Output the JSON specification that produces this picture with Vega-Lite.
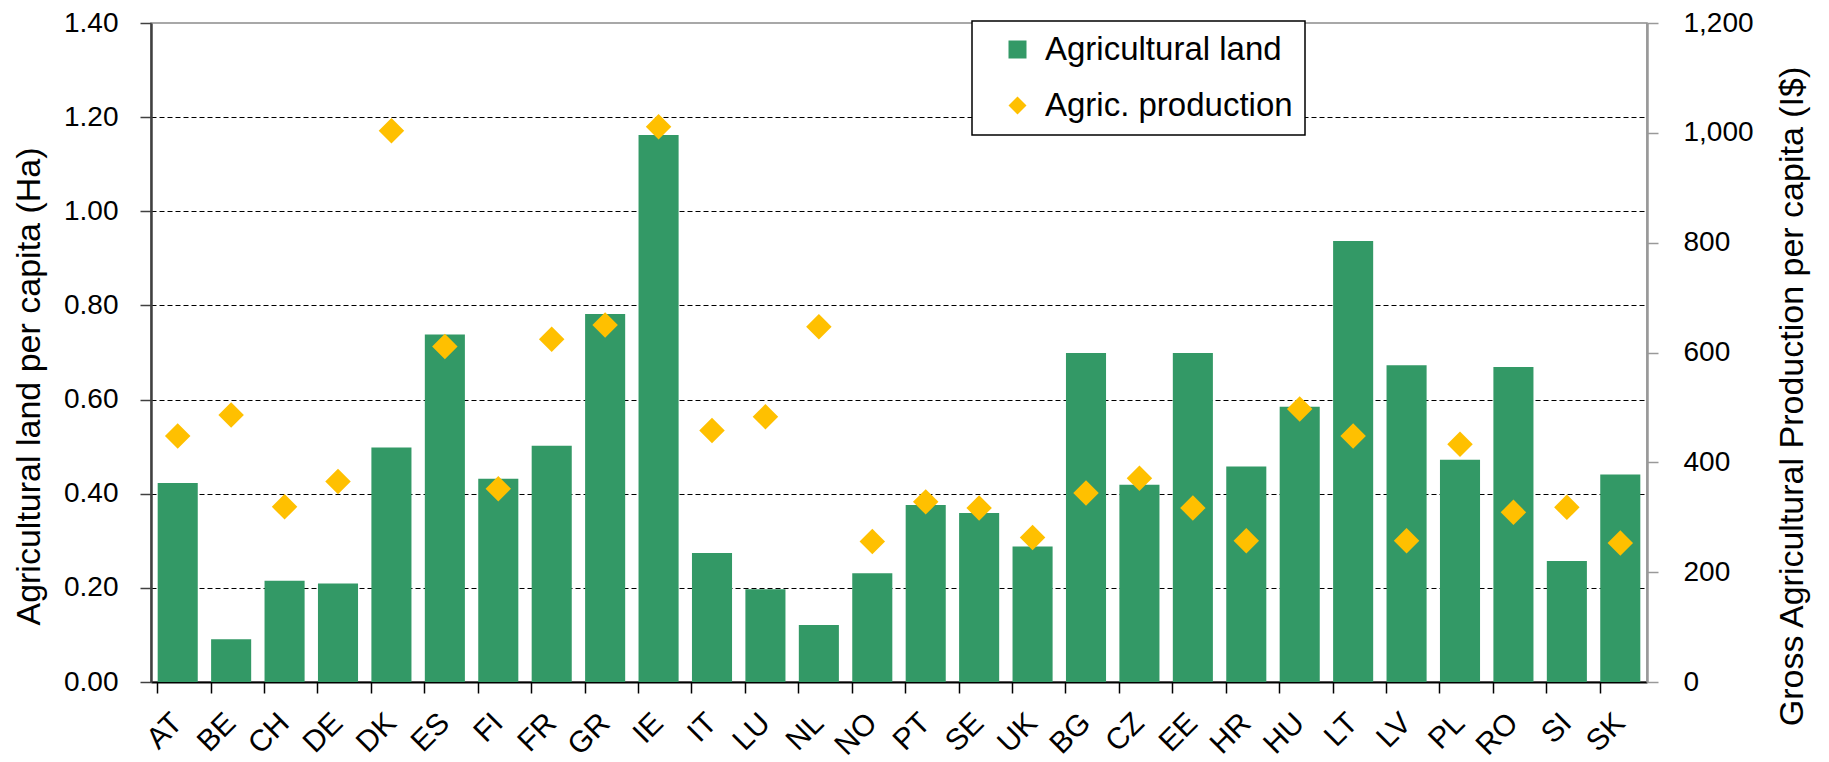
{
  "$schema": "https://vega.github.io/schema/vega-lite/v6.json",
  "width": 1496,
  "height": 659,
  "autosize": {"type": "none"},
  "padding": {"left": 151, "top": 23, "right": 182, "bottom": 80},
  "background": "white",
  "config": {
    "font": "Liberation Sans",
    "view": {"stroke": "#8c8c8c", "strokeWidth": 1.5}
  },
  "data": {
    "values": [
      {"country": "AT", "land": 0.423, "prod": 448},
      {"country": "BE", "land": 0.091, "prod": 486},
      {"country": "CH", "land": 0.215, "prod": 319},
      {"country": "DE", "land": 0.209, "prod": 365},
      {"country": "DK", "land": 0.498, "prod": 1004},
      {"country": "ES", "land": 0.738, "prod": 611},
      {"country": "FI", "land": 0.432, "prod": 352},
      {"country": "FR", "land": 0.502, "prod": 624},
      {"country": "GR", "land": 0.782, "prod": 650},
      {"country": "IE", "land": 1.162, "prod": 1011},
      {"country": "IT", "land": 0.274, "prod": 458},
      {"country": "LU", "land": 0.197, "prod": 483},
      {"country": "NL", "land": 0.121, "prod": 647},
      {"country": "NO", "land": 0.231, "prod": 256},
      {"country": "PT", "land": 0.376, "prod": 328},
      {"country": "SE", "land": 0.359, "prod": 317},
      {"country": "UK", "land": 0.288, "prod": 263},
      {"country": "BG", "land": 0.699, "prod": 344},
      {"country": "CZ", "land": 0.419, "prod": 371},
      {"country": "EE", "land": 0.699, "prod": 317},
      {"country": "HR", "land": 0.458, "prod": 257},
      {"country": "HU", "land": 0.585, "prod": 497},
      {"country": "LT", "land": 0.937, "prod": 448},
      {"country": "LV", "land": 0.673, "prod": 257},
      {"country": "PL", "land": 0.472, "prod": 433},
      {"country": "RO", "land": 0.669, "prod": 309},
      {"country": "SI", "land": 0.257, "prod": 318},
      {"country": "SK", "land": 0.441, "prod": 253}
    ]
  },
  "layer": [
    {
      "mark": {"type": "bar"},
      "encoding": {
        "x": {
          "field": "country", "type": "nominal", "sort": null,
          "scale": {"paddingInner": 0.25, "paddingOuter": 0.125},
          "axis": {
            "orient": "bottom",
            "title": null, "labelAngle": -45, "labelAlign": "right", "labelBaseline": "middle",
            "labelFontSize": 30, "labelColor": "black", "labelPadding": 36,
            "ticks": false, "domainColor": "black", "domainWidth": 2, "grid": false
          }
        },
        "y": {
          "field": "land", "type": "quantitative",
          "scale": {"domain": [0, 1.4], "nice": false, "zero": true},
          "axis": {
            "orient": "left",
            "values": [0, 0.2, 0.4, 0.6, 0.8, 1.0, 1.2, 1.4],
            "format": ".2f",
            "title": "Agricultural land per capita (Ha)",
            "titleFontSize": 34, "titleFontWeight": "normal", "titleColor": "black",
            "titleX": -122, "titleY": 363, "titleAngle": -90, "titleAlign": "center", "titleBaseline": "middle",
            "labelFontSize": 28, "labelColor": "black", "labelPadding": 22,
            "tickSize": 11, "tickColor": "#404040", "tickWidth": 1.5,
            "domainColor": "#404040", "domainWidth": 2.5,
            "grid": true, "gridColor": "black", "gridDash": [5, 3], "gridWidth": 1,
            "gridOpacity": {"condition": {"test": "datum.value <= 0.01 || datum.value >= 1.39", "value": 0}, "value": 1}
          }
        },
        "color": {
          "datum": "Agricultural land", "type": "nominal",
          "scale": {"domain": ["Agricultural land", "Agric. production"], "range": ["#339966", "#FFC000"]},
          "legend": {
            "title": null, "orient": "none", "legendX": 821, "legendY": -2,
            "labelFontSize": 33, "labelColor": "black", "labelLimit": 500, "symbolSize": 324,
            "padding": 12, "symbolOffset": 17, "labelOffset": 11, "rowPadding": 22,
            "strokeColor": "black", "fillColor": "white", "symbolOpacity": 1, "symbolStrokeWidth": 0,
            "encode": {
              "symbols": {"update": {"shape": {"signal": "datum.value === 'Agric. production' ? 'diamond' : 'square'"}}},
              "labels": {"update": {"text": {"signal": "datum.label + '    '"}}},
              "legend": {"update": {"strokeWidth": {"value": 1.5}}}
            }
          }
        }
      }
    },
    {
      "mark": {"type": "point", "shape": "diamond", "filled": true, "size": 650, "opacity": 1, "strokeWidth": 0},
      "encoding": {
        "x": {
          "field": "country", "type": "nominal", "sort": null,
          "axis": {
            "orient": "bottom",
            "title": null, "bandPosition": 0, "labels": false, "ticks": true, "tickSize": 11,
            "tickColor": "black", "tickWidth": 1.5, "domain": false, "grid": false
          }
        },
        "y": {
          "field": "prod", "type": "quantitative",
          "scale": {"domain": [0, 1200], "nice": false, "zero": true},
          "axis": {
            "orient": "right",
            "values": [0, 200, 400, 600, 800, 1000, 1200],
            "format": ",.0f",
            "title": "Gross Agricultural Production per capita (I$)",
            "titleFontSize": 34, "titleFontWeight": "normal", "titleColor": "black",
            "titleX": 145, "titleY": 373, "titleAngle": -90, "titleAlign": "center", "titleBaseline": "middle",
            "labelFontSize": 28, "labelColor": "black", "labelPadding": 25,
            "tickSize": 11, "tickColor": "#999999", "tickWidth": 1.5,
            "domainColor": "#999999", "domainWidth": 2.5, "grid": false
          }
        },
        "color": {"datum": "Agric. production", "type": "nominal"}
      }
    }
  ],
  "resolve": {"scale": {"y": "independent"}, "axis": {"x": "independent"}}
}
